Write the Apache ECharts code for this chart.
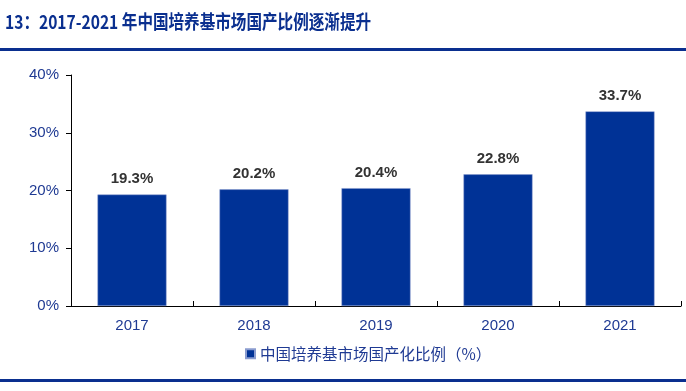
<!DOCTYPE html>
<html><head><meta charset="utf-8">
<script src="https://cdn.jsdelivr.net/npm/echarts@6/dist/echarts.min.js"></script>
<style>html,body{margin:0;padding:0;background:#fff}#c{width:686px;height:391px}</style>
</head><body><div id="c"></div>
<script>
var categories = ['2017','2018','2019','2020','2021'];
var values = [19.3, 20.2, 20.4, 22.8, 33.7];
var yTicks = [0, 10, 20, 30, 40];
var seriesName = '中国培养基市场国产化比例（%）';
var titleText = '13：2017-2021 年中国培养基市场国产比例逐渐提升';

var chart = echarts.init(document.getElementById('c'));
chart.setOption({
  animation: false,
  graphic: [
    {type: 'text', x: 5, y: 22, scaleX: 0.82,
      style: {text: titleText, fill: '#0a2f8f', fontSize: 19, fontWeight: 'bold',
        fontFamily: 'Noto Sans CJK SC', textVerticalAlign: 'middle', verticalAlign: 'middle'}},
    {type: 'rect', shape: {x: 0, y: 48, width: 686, height: 3}, style: {fill: '#0a2f8f'}},
    {type: 'rect', shape: {x: 0, y: 379, width: 686, height: 3}, style: {fill: '#0a2f8f'}}
  ],
  legend: {
    data: [seriesName], left: 240, top: 341, itemWidth: 9, itemHeight: 9, itemGap: 5,
    icon: 'rect',
    textStyle: {color: '#1f3a93', fontSize: 15.5, fontFamily: 'Noto Sans CJK SC'}
  },
  grid: {left: 71, right: 5, top: 75, bottom: 85},
  xAxis: {
    type: 'category', data: categories,
    axisLine: {lineStyle: {color: '#000', width: 1}},
    axisTick: {show: true, inside: true, length: 5, lineStyle: {color: '#000'}},
    axisLabel: {color: '#1f3a93', fontSize: 15, fontFamily: 'Arial', margin: 12}
  },
  yAxis: {
    type: 'value', min: 0, max: 40, interval: 10,
    axisLine: {show: true, lineStyle: {color: '#000'}},
    axisTick: {show: true, length: 5, lineStyle: {color: '#000'}},
    splitLine: {show: false},
    axisLabel: {color: '#1f3a93', fontSize: 15, fontFamily: 'Arial', margin: 12,
      formatter: function(v){ return yTicks.indexOf(v) >= 0 ? v + '%' : ''; }}
  },
  series: [{
    name: seriesName, type: 'bar', data: values, barWidth: 69,
    itemStyle: {color: '#003296', borderColor: '#8a9ccf', borderWidth: 0.5},
    label: {show: true, position: 'top', distance: 8, color: '#333', fontSize: 15,
      fontWeight: 'bold', fontFamily: 'Arial', formatter: function(p){ return p.value.toFixed(1) + '%'; }}
  }]
});
</script></body></html>
